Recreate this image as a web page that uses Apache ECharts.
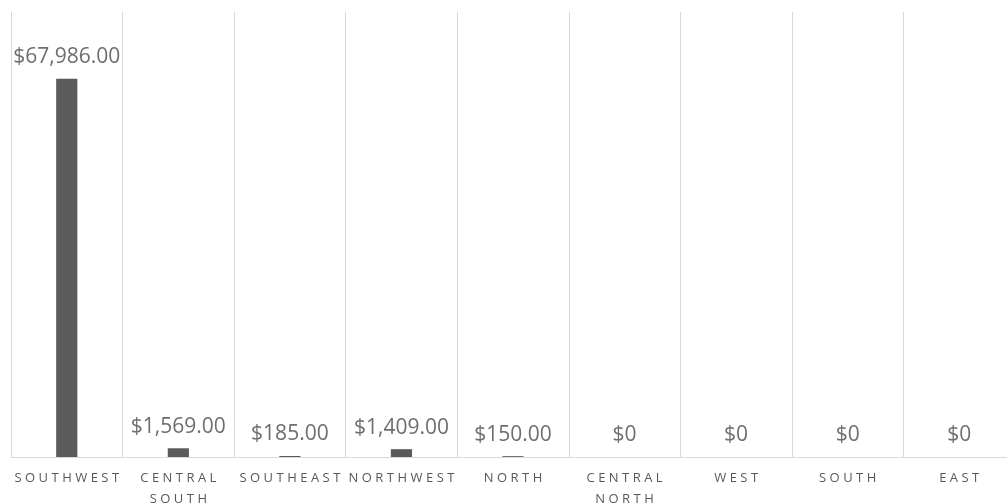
<!DOCTYPE html>
<html>
<head>
<meta charset="utf-8">
<script src="https://cdn.jsdelivr.net/npm/echarts@6/dist/echarts.min.js"></script>
<style>
  html, body { margin: 0; padding: 0; background: #fff; }
  #chart { width: 1007px; height: 504px; }
</style>
</head>
<body>
<div id="chart"></div>
<script>
const regions = ['SOUTHWEST', 'CENTRAL SOUTH', 'SOUTHEAST', 'NORTHWEST', 'NORTH', 'CENTRAL NORTH', 'WEST', 'SOUTH', 'EAST']
const sales = [67986, 1569, 185, 1409, 150, 0, 0, 0, 0]

// spread letters out like the Excel axis labels, one word per line
function spaced(name) {
  return name.split(' ').map(w => w.split('').join('\u2009\u200A')).join('\n')
}

function money(v) {
  if (v === 0) return '$0'
  return '$' + v.toLocaleString('en-US', { minimumFractionDigits: 2, maximumFractionDigits: 2 })
}

const chart = echarts.init(document.getElementById('chart'))
chart.setOption({
  animation: false,
  grid: { left: 11, top: 12, width: 1004, bottom: 47, outerBoundsMode: 'none', containLabel: false },
  xAxis: {
    type: 'category',
    data: regions,
    axisLine: { lineStyle: { color: '#d9d9d9', width: 1 } },
    axisTick: { show: false },
    splitLine: { show: true, lineStyle: { color: '#d9d9d9', width: 1 } },
    axisLabel: {
      interval: 0,
      margin: 11,
      color: '#595959',
      fontSize: 13,
      fontFamily: 'Open Sans',
      lineHeight: 21,
      formatter: v => spaced(v)
    }
  },
  yAxis: {
    type: 'value',
    min: 0,
    max: 80000,
    show: false,
    splitLine: { show: false }
  },
  series: [{
    type: 'bar',
    data: sales,
    barWidth: '19%',
    itemStyle: { color: '#5b5b5b' },
    label: {
      show: true,
      position: 'top',
      distance: 11,
      color: '#6e6e6e',
      fontSize: 21,
      fontFamily: 'Open Sans',
      formatter: p => money(p.value)
    }
  }]
})
</script>
</body>
</html>
